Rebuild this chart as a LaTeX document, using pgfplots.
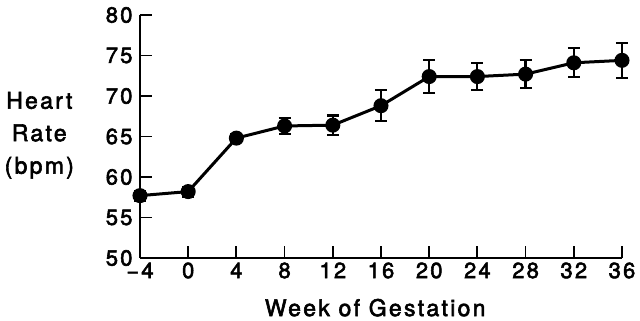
\documentclass[border=0pt]{standalone}
\usepackage{fontspec}
\setmainfont{TeX Gyre Heros}[LetterSpace=10, FakeBold=2.5]
\usepackage{pgfplots}
\pgfplotsset{compat=1.18}
\begin{document}
\begin{tikzpicture}
\useasboundingbox (-140pt,-63pt) rectangle (500pt,258pt);
\begin{axis}[
  at={(0pt,0pt)}, anchor=south west,
  scale only axis, width=482pt, height=243pt,
  xmin=-4, xmax=36, ymin=50, ymax=80,
  axis x line=bottom, axis y line=left,
  axis line style={-, line width=2.2pt},
  xtick={-4,0,4,...,36}, ytick={50,55,...,80},
  xticklabels={−4,0,4,8,12,16,20,24,28,32,36},
  tick align=inside, major tick length=12pt,
  tick style={line width=1.8pt, black},
  /pgf/number format/assume math mode=true,
  ticklabel style={font=\fontsize{22}{25}\selectfont},
  yticklabel style={xshift=-4pt},
  xticklabel style={yshift=-1pt},
  clip=false,
  xlabel={Week of Gestation},
  ylabel={Heart\\Rate\\(bpm)},
  every axis x label/.style={at={(axis description cs:0.488,-0.239)}, anchor=base, font=\fontsize{23}{25}\selectfont},
  every axis y label/.style={at={(axis description cs:-0.209,0.505)}, anchor=center, align=center, font=\fontsize{23}{32.5}\selectfont},
]
\addplot[black, line width=3pt, mark=*, mark size=6pt,
  error bars/.cd, y dir=both, y explicit,
  error bar style={line width=2.2pt, black},
  error mark options={rotate=90, line width=2.2pt, mark size=6pt, black}]
coordinates {
  (-4,57.7) +- (0,0.6)
  (0,58.2) +- (0,0.6)
  (4,64.8) +- (0,0.5)
  (8,66.3) +- (0,1.0)
  (12,66.4) +- (0,1.2)
  (16,68.8) +- (0,1.9)
  (20,72.4) +- (0,2.05)
  (24,72.4) +- (0,1.7)
  (28,72.7) +- (0,1.75)
  (32,74.1) +- (0,1.8)
  (36,74.4) +- (0,2.15)
};
\end{axis}
\end{tikzpicture}
\end{document}
